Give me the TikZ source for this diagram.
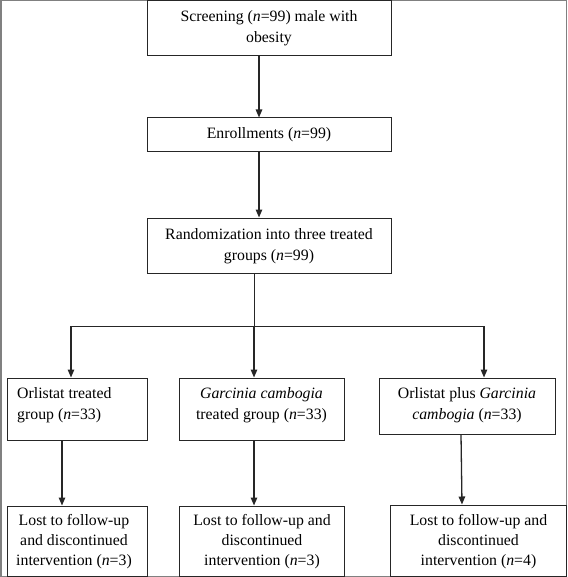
\documentclass[tikz,border=0pt]{standalone}
\usepackage{fontspec}
\setmainfont{Liberation Serif}
\usetikzlibrary{arrows.meta}
\begin{document}
\begin{tikzpicture}[x=1pt,y=-1pt,
  boxnode/.style={draw=black!85, line width=1pt, inner sep=0pt, rectangle},
  txt/.style={inner sep=0pt, align=center, font=\fontsize{15.8}{21}\selectfont, text=black},
  arr/.style={draw=black!85, line width=1.3pt, -{Triangle[length=8pt,width=6.5pt]}},
  ln/.style={draw=black!85, line width=1pt}]
\useasboundingbox (0,0) rectangle (567,577);
\draw[gray, line width=1.5pt] (0.75,0.75) rectangle (566.25,576.25);

% boxes
\node[boxnode, minimum width=244pt, minimum height=55pt] (scr) at (269,28.5) {};
\node[boxnode, minimum width=244pt, minimum height=34pt] (enr) at (269,135) {};
\node[boxnode, minimum width=244pt, minimum height=55pt] (rand) at (269,245.5) {};
\node[boxnode, minimum width=140pt, minimum height=62pt] (g1) at (77,409) {};
\node[boxnode, minimum width=165pt, minimum height=62pt] (g2) at (261.5,409) {};
\node[boxnode, minimum width=176pt, minimum height=56pt] (g3) at (467,406) {};
\node[boxnode, minimum width=140pt, minimum height=70pt] (b1) at (77,541) {};
\node[boxnode, minimum width=165pt, minimum height=70pt] (b2) at (261.5,541) {};
\node[boxnode, minimum width=176pt, minimum height=71pt] (b3) at (478,540.5) {};

% texts
\node[txt] (tscr) at (269,28) {Screening (\textit{n}=99) male with\\obesity};
\node[txt] (tenr) at (269,134.5) {Enrollments (\textit{n}=99)};
\node[txt] (trand) at (269,246) {Randomization into three treated\\groups (\textit{n}=99)};
\node[txt, align=left, anchor=west] (tg1) at (17,405.5) {Orlistat treated\\group (\textit{n}=33)};
\node[txt] (tg2) at (261.5,405.5) {\textit{Garcinia cambogia}\\treated group (\textit{n}=33)};
\node[txt] (tg3) at (467,405.5) {Orlistat plus \textit{Garcinia}\\\textit{cambogia} (\textit{n}=33)};
\node[txt, font=\fontsize{15.8}{20}\selectfont] (tb1) at (74,541.7) {Lost to follow-up\\and discontinued\\intervention (\textit{n}=3)};
\node[txt, font=\fontsize{15.8}{20}\selectfont] (tb2) at (262,541.7) {Lost to follow-up and\\discontinued\\intervention (\textit{n}=3)};
\node[txt, font=\fontsize{15.8}{20}\selectfont] (tb3) at (478.5,541.7) {Lost to follow-up and\\discontinued\\intervention (\textit{n}=4)};

% connector columns
\coordinate (c0) at (259,0);
\coordinate (cr) at (254,0);
\coordinate (cL) at (71,0);
\coordinate (cM) at (254,0);
\coordinate (cR) at (484,0);
\coordinate (hy) at (0,326);
\coordinate (d1) at (62,0);
\coordinate (d2) at (254,0);
\coordinate (d3a) at (461,0);
\coordinate (d3b) at (462,0);

\draw[arr] (scr.south -| c0) -- (enr.north -| c0);
\draw[arr] (enr.south -| c0) -- (rand.north -| c0);
\draw[ln] (rand.south -| cr) -- (hy -| cr);
\draw[ln] (hy -| cL) -- (hy -| cR);
\draw[arr] (hy -| cL) -- (g1.north -| cL);
\draw[arr] (hy -| cM) -- (g2.north -| cM);
\draw[arr] (hy -| cR) -- (g3.north -| cR);
\draw[arr] (g1.south -| d1) -- (b1.north -| d1);
\draw[arr] (g2.south -| d2) -- (b2.north -| d2);
\draw[arr] (g3.south -| d3a) -- (b3.north -| d3b);
\end{tikzpicture}
\end{document}
